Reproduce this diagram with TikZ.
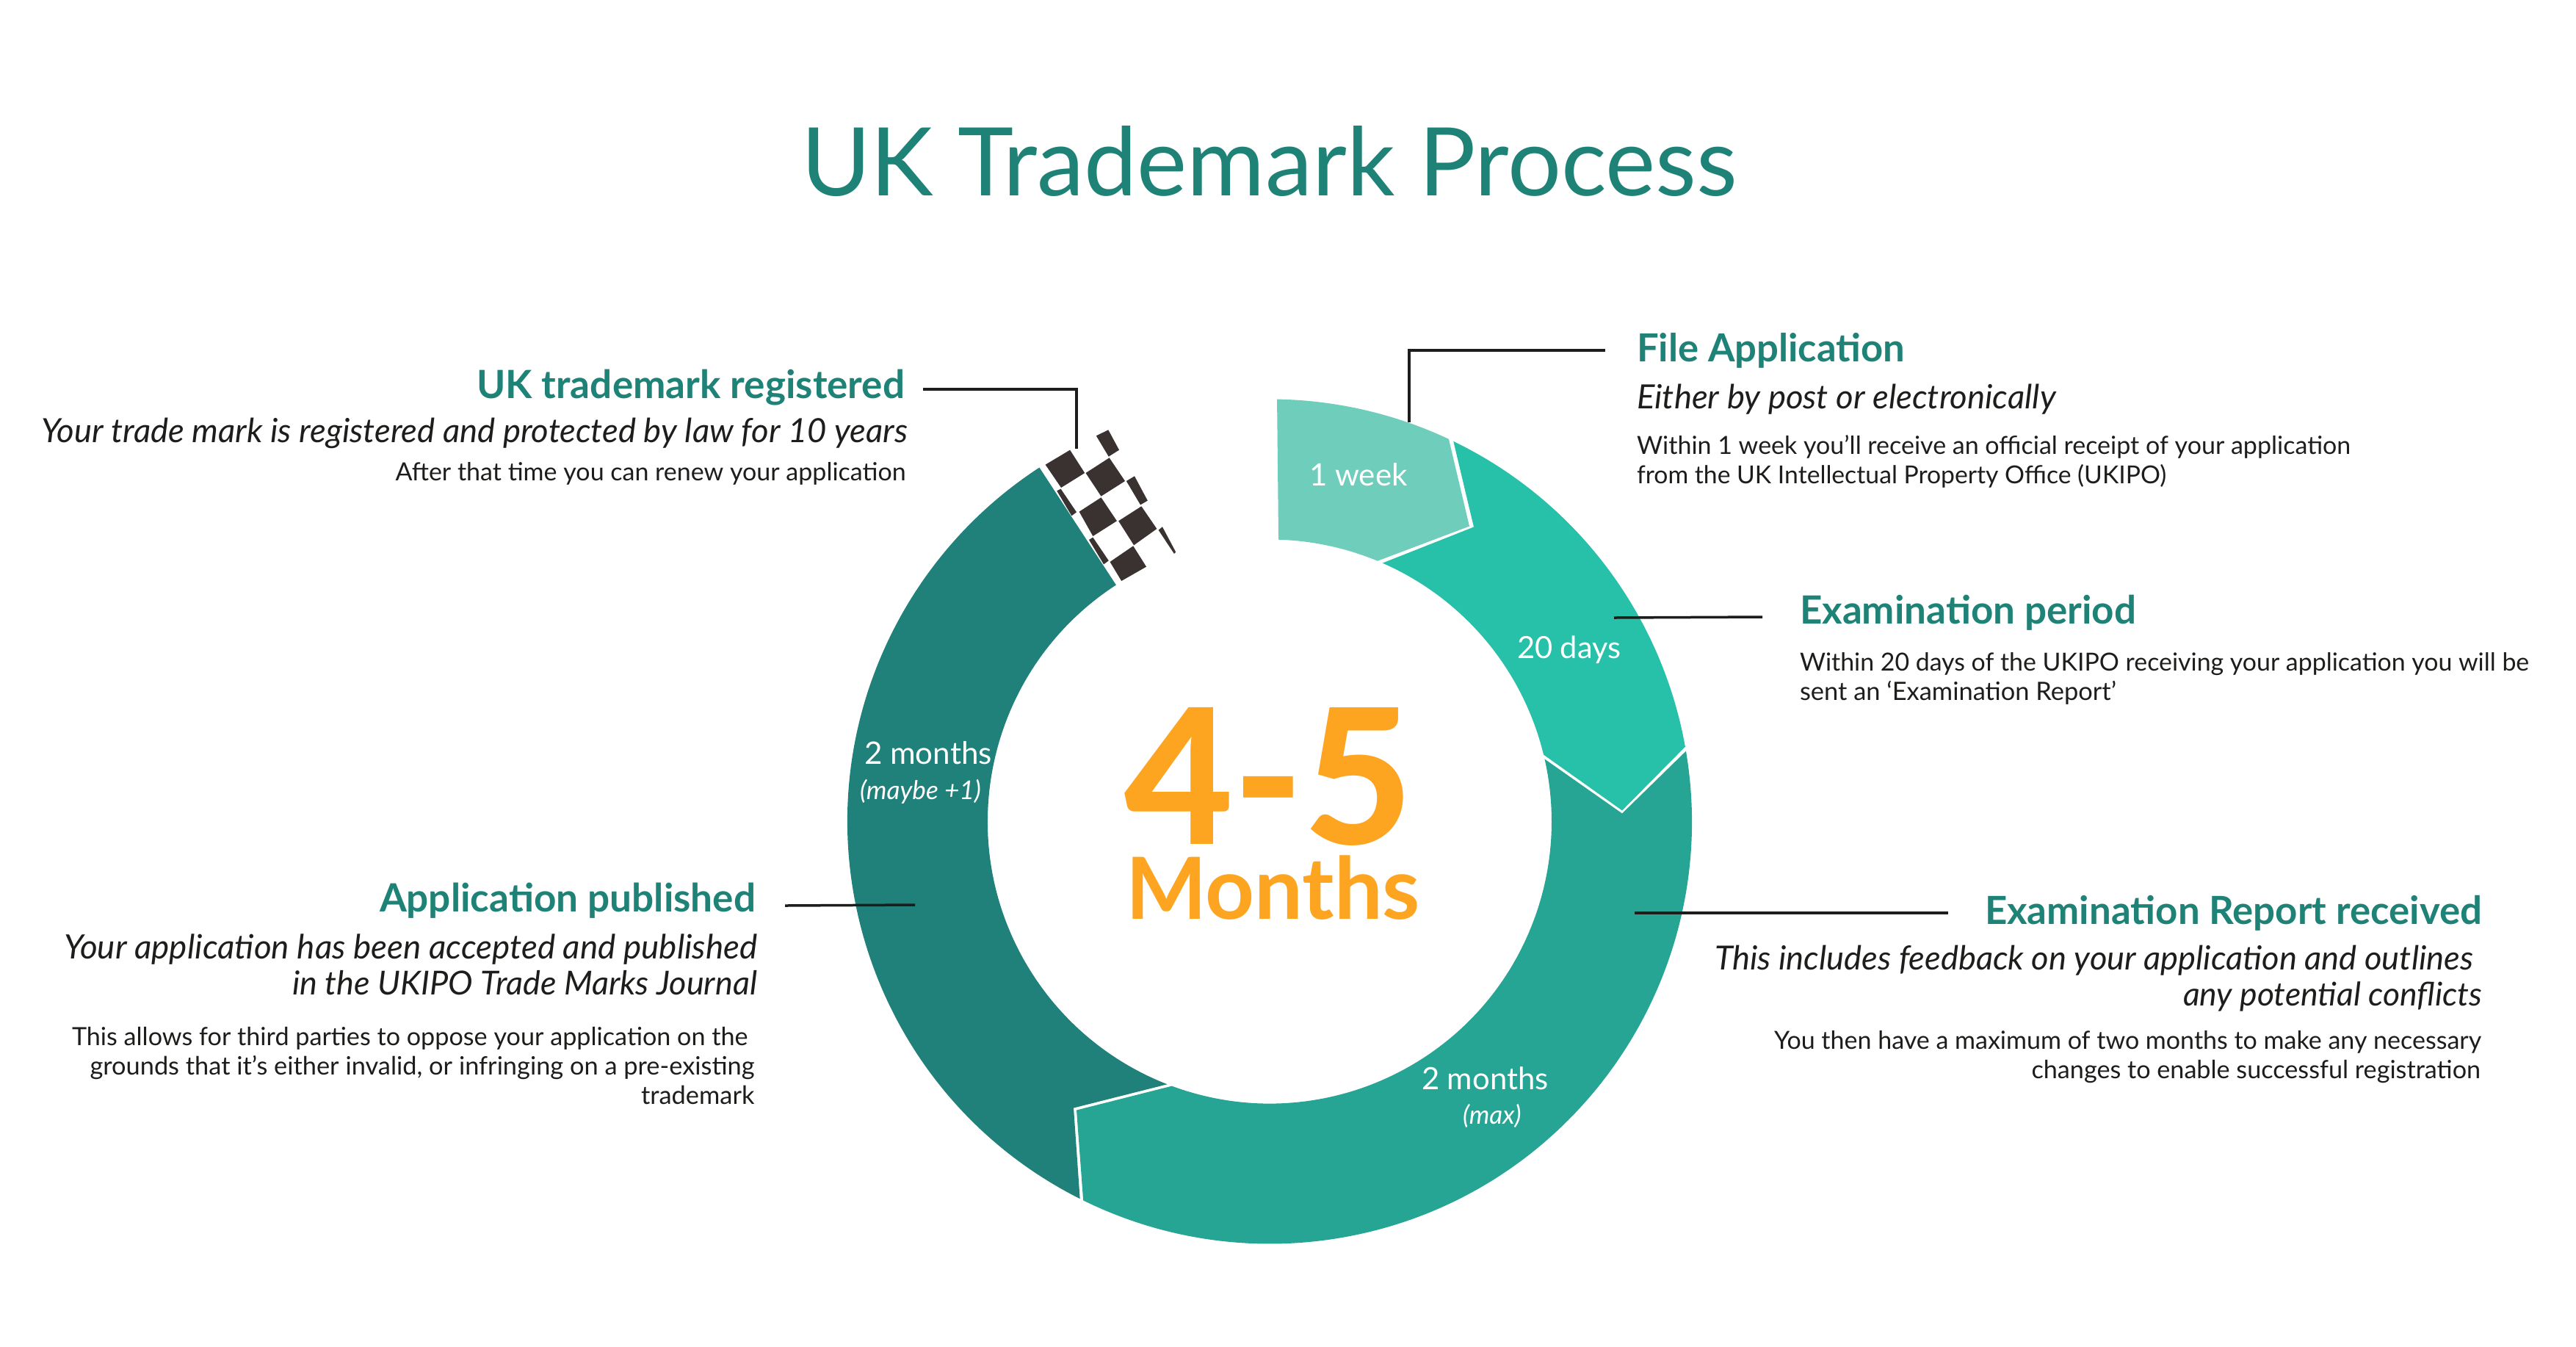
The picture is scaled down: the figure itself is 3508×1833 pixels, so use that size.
\documentclass[tikz,border=0pt]{standalone}
\usepackage{fontspec}
\usepackage{graphicx}
\setmainfont{Lato}
\newfontfamily\heavyfont{Lato Heavy}
\definecolor{tealhead}{HTML}{1F8277}
\definecolor{inkc}{HTML}{1D1D1B}
\definecolor{segone}{HTML}{6FCDBB}
\definecolor{segtwo}{HTML}{27C0A8}
\definecolor{segthree}{HTML}{27A594}
\definecolor{segfour}{HTML}{20807A}
\definecolor{orangec}{HTML}{FDA521}
\definecolor{flagc}{HTML}{3A3131}
\tikzset{
  txt/.style={inner sep=0pt,outer sep=0pt,anchor=base west},
  leader/.style={draw=inkc,line width=0.07cm,line cap=butt,line join=miter}
}
\newcommand{\tl}[7]{% name, x0, x1, baseline, colour, font, text
  \pgfmathsetlengthmacro{\tw}{(#3-#2)*0.02cm}%
  \node[txt,text=#5] (#1) at (#2,-#4-1.5) {\resizebox{\tw}{!}{#6#7}};}
\begin{document}
\begin{tikzpicture}[x=0.02cm,y=0.02cm]
\fill[white] (0,0) rectangle (3508,-1833);
\useasboundingbox (0,0) rectangle (3508,-1833);

% ring
\begin{scope}[shift={(1729,-1118.5)}]
\fill[segone] (89:575) arc (89:64.9:575) -- (272,402) -- (67.5:384) arc (67.5:88.2:384) -- cycle;
\fill[segtwo] (64.2:575) arc (64.2:10.2:575) -- (480,15) -- (13.7:384) arc (13.7:66.4:384) -- (278,401) -- cycle;
\fill[segthree] (9.6:575) arc (9.6:-116.2:575) -- (-263,-393) -- (-110.3:384) arc (-110.3:12.8:384) -- (480,11) -- cycle;
\fill[segfour] (243.3:575) arc (243.3:123.05:575) -- (123:384) arc (123:248.7:384) -- (-267,-390) -- cycle;
\end{scope}

% chequered flag
\begin{scope}[shift={(1350,-500)},x=0.008929cm,y=-0.006667cm]
\fill[flagc] (165,398)--(240,338)--(285,432)--(213,492)--cycle;
\fill[flagc] (288,432)--(360,370)--(408,465)--(335,527)--cycle;
\fill[flagc] (320,280)--(357,256)--(390,338)--(358,365)--cycle;
\fill[flagc] (412,465)--(437,445)--(477,545)--(455,562)--cycle;
\fill[flagc] (268,590)--(335,532)--(383,628)--(310,690)--cycle;
\fill[flagc] (388,628)--(458,568)--(505,660)--(435,727)--cycle;
\fill[flagc] (200,505)--(212,497)--(260,592)--(245,607)--cycle;
\fill[flagc] (298,705)--(310,695)--(358,790)--(343,805)--cycle;
\fill[flagc] (362,795)--(433,730)--(473,815)--(397,873)--cycle;
\fill[flagc] (510,665)--(522,652)--(563,755)--(558,762)--cycle;
\end{scope}

% leaders
\coordinate (la) at (1257,-530); \coordinate (lb) at (1466,-530); \coordinate (lc) at (1466,-611);
\coordinate (ld) at (2186,-477); \coordinate (le) at (1919,-477); \coordinate (lf) at (1919,-575);
\coordinate (lg) at (2198,-841); \coordinate (lh) at (2400,-840);
\coordinate (li) at (2226,-1243); \coordinate (lj) at (2653,-1243);
\coordinate (lk) at (1069,-1233); \coordinate (ll) at (1246,-1232);
\draw[leader] (la) -- (lb) -- (lc);
\draw[leader] (ld) -- (le) -- (lf);
\draw[leader] (lg) -- (lh);
\draw[leader] (li) -- (lj);
\draw[leader] (lk) -- (ll);

% title
\tl{title}{1091}{2366}{265}{tealhead}{\fontsize{40}{48}\selectfont}{UK Trademark Process}
% centre
\tl{big}{1531}{1924}{1147.5}{orangec}{\fontsize{40}{48}\heavyfont}{4-5}
\tl{months}{1533}{1934}{1250}{orangec}{\fontsize{40}{48}\selectfont\bfseries}{Months}
% ring labels
\tl{ringa}{1783}{1916.5}{660}{white}{\fontsize{20}{24}\selectfont}{1 week}
\tl{ringb}{2066}{2207.6}{895}{white}{\fontsize{20}{24}\selectfont}{20 days}
\tl{ringc}{1936}{2108.5}{1482}{white}{\fontsize{20}{24}\selectfont}{2 months}
\tl{ringd}{1992}{2071.6}{1529}{white}{\fontsize{20}{24}\selectfont\itshape}{(max)}
\tl{ringe}{1177}{1351}{1039}{white}{\fontsize{20}{24}\selectfont}{2 months}
\tl{ringf}{1171}{1336}{1087}{white}{\fontsize{20}{24}\selectfont\itshape}{(maybe +1)}
% UK trademark registered
\tl{ua}{649}{1232}{541}{tealhead}{\fontsize{20}{24}\selectfont\bfseries}{UK trademark registered}
\tl{ub}{56}{1236}{601}{inkc}{\fontsize{20}{24}\selectfont\itshape}{Your trade mark is registered and protected by law for 10 years}
\tl{uc}{538.5}{1233.6}{653}{inkc}{\fontsize{20}{24}\selectfont}{After that time you can renew your application}
% Application published
\tl{pa}{517}{1029}{1240}{tealhead}{\fontsize{20}{24}\selectfont\bfseries}{Application published}
\tl{pb}{87}{1031}{1304}{inkc}{\fontsize{20}{24}\selectfont\itshape}{Your application has been accepted and published}
\tl{pc}{398}{1031}{1353}{inkc}{\fontsize{20}{24}\selectfont\itshape}{in the UKIPO Trade Marks Journal}
\tl{pd}{98}{1018.5}{1422}{inkc}{\fontsize{20}{24}\selectfont}{This allows for third parties to oppose your application on the}
\tl{pe}{122.5}{1027.5}{1462}{inkc}{\fontsize{20}{24}\selectfont}{grounds that it’s either invalid, or infringing on a pre-existing}
\tl{pf}{873}{1027.5}{1502}{inkc}{\fontsize{20}{24}\selectfont}{trademark}
% File Application
\tl{fa}{2229}{2594}{491}{tealhead}{\fontsize{20}{24}\selectfont\bfseries}{File Application}
\tl{fb}{2229}{2799.5}{555}{inkc}{\fontsize{20}{24}\selectfont\itshape}{Either by post or electronically}
\tl{fc}{2229}{3201}{617}{inkc}{\fontsize{20}{24}\selectfont}{Within 1 week you’ll receive an official receipt of your application}
\tl{fd}{2229}{2950}{657}{inkc}{\fontsize{20}{24}\selectfont}{from the UK Intellectual Property Office (UKIPO)}
% Examination period
\tl{ea}{2451}{2909}{848}{tealhead}{\fontsize{20}{24}\selectfont\bfseries}{Examination period}
\tl{eb}{2451}{3444}{912}{inkc}{\fontsize{20}{24}\selectfont}{Within 20 days of the UKIPO receiving your application you will be}
\tl{ec}{2451}{2882}{952}{inkc}{\fontsize{20}{24}\selectfont}{sent an ‘Examination Report’}
% Examination Report received
\tl{ra}{2703}{3380}{1257}{tealhead}{\fontsize{20}{24}\selectfont\bfseries}{Examination Report received}
\tl{rb}{2335}{3368}{1319}{inkc}{\fontsize{20}{24}\selectfont\itshape}{This includes feedback on your application and outlines}
\tl{rc}{2973}{3380}{1368}{inkc}{\fontsize{20}{24}\selectfont\itshape}{any potential conflicts}
\tl{rd}{2416}{3379}{1427}{inkc}{\fontsize{20}{24}\selectfont}{You then have a maximum of two months to make any necessary}
\tl{re}{2766.5}{3378}{1467}{inkc}{\fontsize{20}{24}\selectfont}{changes to enable successful registration}
\end{tikzpicture}
\end{document}
